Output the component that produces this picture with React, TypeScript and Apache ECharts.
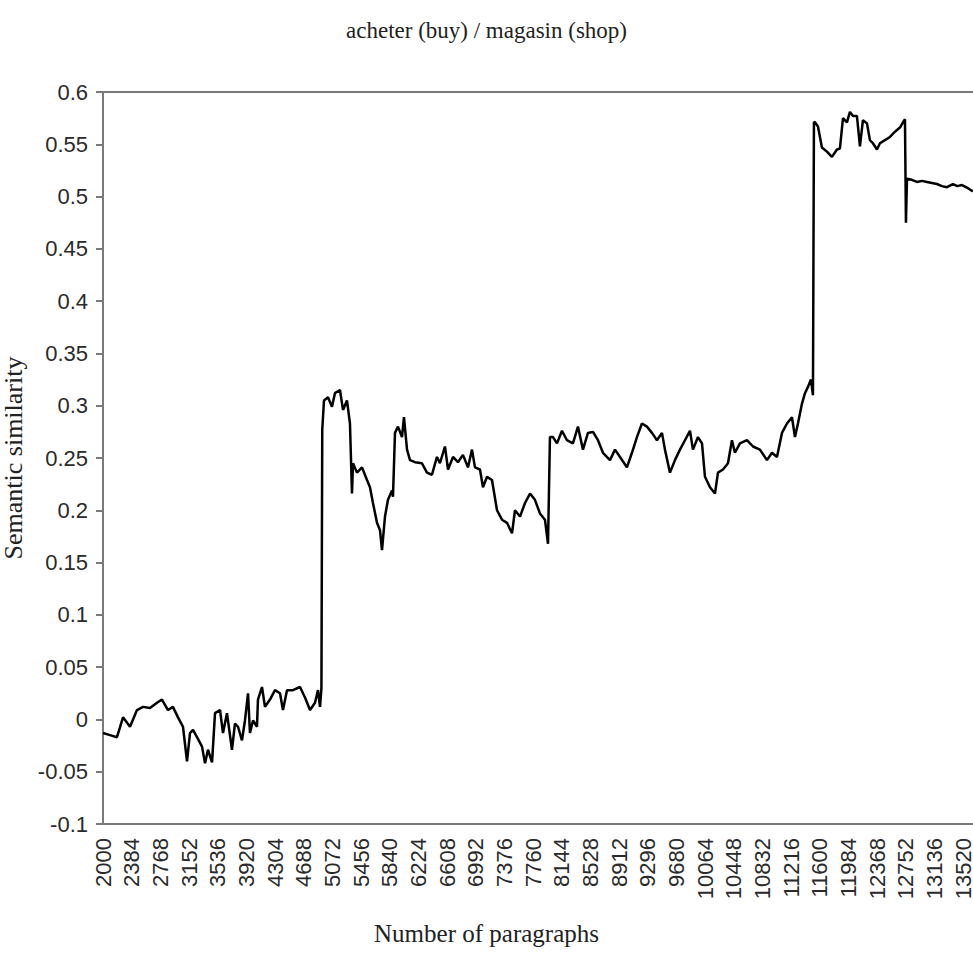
import React, { useEffect, useRef } from "react";
import * as echarts from "echarts";

const titleText = "acheter (buy) / magasin (shop)";
const xName = "Number of paragraphs";
const yName = "Semantic similarity";

// Number of paragraphs (x) and semantic similarity (y)
const paragraphs: number[] = [
  2000, 2094, 2187, 2268, 2362, 2455, 2536, 2629, 2723, 2790, 2870, 2937, 3004, 3071, 3125, 3165, 3205, 3259, 3326, 3366,
  3406, 3460, 3500, 3567, 3607, 3660, 3727, 3767, 3808, 3861, 3901, 3942, 3968, 4009, 4062, 4075, 4129, 4169, 4236, 4303,
  4370, 4410, 4464, 4544, 4638, 4705, 4772, 4839, 4879, 4906, 4925,
  4936, 4959, 5013, 5066, 5106, 5173, 5214, 5267, 5307, 5334, 5348, 5401, 5468, 5535, 5575, 5615, 5669, 5709, 5736, 5776,
  5816, 5870, 5883, 5910, 5950, 6004, 6030, 6071, 6111, 6178, 6271, 6338, 6405, 6472, 6512, 6579, 6620, 6687, 6753, 6820,
  6887, 6941, 6981, 7048, 7088, 7142, 7209, 7276, 7343, 7410, 7477, 7517, 7584, 7651, 7718, 7784, 7851, 7918, 7959,
  7985, 8026, 8079, 8146, 8213, 8293, 8360, 8427, 8494, 8561, 8628, 8695, 8789, 8856, 8923, 9016, 9083, 9150, 9217, 9284,
  9351, 9418, 9485, 9525, 9592, 9659, 9726, 9793, 9860, 9900, 9967, 10021, 10061, 10128, 10195, 10235, 10302, 10369, 10422, 10462,
  10529, 10623, 10704, 10797, 10891, 10958, 11025, 11092, 11159, 11226, 11266, 11306, 11360, 11400, 11440, 11480, 11507,
  11520, 11534, 11574, 11627, 11694, 11761, 11828, 11868, 11909, 11962, 12002, 12043, 12096, 12136, 12176, 12230, 12270, 12310, 12364,
  12404, 12471, 12538, 12605, 12672, 12712, 12739, 12752, 12766, 12830, 12899, 12966, 13033, 13100, 13167, 13234, 13301, 13382, 13440,
  13502, 13582, 13649,
];
const similarity: number[] = [
  -0.013, -0.015, -0.017, 0.002, -0.007, 0.009, 0.012, 0.011, 0.016, 0.019, 0.009, 0.012, 0.002, -0.007, -0.040, -0.013, -0.010, -0.017, -0.026, -0.042,
  -0.029, -0.041, 0.006, 0.009, -0.013, 0.006, -0.029, -0.004, -0.007, -0.020, -0.001, 0.025, -0.013, -0.001, -0.007, 0.019, 0.031, 0.012, 0.019, 0.028,
  0.025, 0.009, 0.028, 0.028, 0.031, 0.021, 0.009, 0.016, 0.028, 0.012, 0.030,
  0.277, 0.305, 0.308, 0.299, 0.312, 0.315, 0.296, 0.305, 0.283, 0.216, 0.245, 0.236, 0.241, 0.229, 0.222, 0.207, 0.188, 0.181, 0.162, 0.194,
  0.210, 0.219, 0.213, 0.274, 0.280, 0.270, 0.289, 0.258, 0.248, 0.246, 0.245, 0.236, 0.234, 0.251, 0.245, 0.261, 0.239, 0.251, 0.246, 0.253,
  0.241, 0.258, 0.241, 0.239, 0.222, 0.232, 0.229, 0.200, 0.191, 0.188, 0.178, 0.200, 0.194, 0.207, 0.216, 0.210, 0.197, 0.191, 0.168,
  0.270, 0.270, 0.264, 0.276, 0.267, 0.264, 0.280, 0.258, 0.274, 0.275, 0.267, 0.255, 0.248, 0.258, 0.251, 0.241, 0.255, 0.270, 0.283, 0.280,
  0.274, 0.267, 0.274, 0.258, 0.236, 0.248, 0.258, 0.267, 0.276, 0.258, 0.270, 0.264, 0.232, 0.222, 0.216, 0.236, 0.239, 0.245, 0.267, 0.255,
  0.264, 0.267, 0.261, 0.258, 0.248, 0.255, 0.251, 0.274, 0.283, 0.289, 0.270, 0.283, 0.302, 0.312, 0.318, 0.325, 0.310,
  0.571, 0.571, 0.567, 0.547, 0.543, 0.538, 0.545, 0.546, 0.575, 0.571, 0.581, 0.577, 0.577, 0.548, 0.573, 0.570, 0.554, 0.551, 0.545,
  0.551, 0.554, 0.557, 0.562, 0.566, 0.571, 0.574, 0.475, 0.517, 0.516, 0.514, 0.515, 0.514, 0.513, 0.512, 0.510, 0.509, 0.512, 0.510,
  0.511, 0.508, 0.505,
];

const xMin = 2000;
const xMax = 13650;
const xStep = 384;
const yMin = -0.1;
const yMax = 0.6;
const yStep = 0.05;

export default function App() {
  const ref = useRef<HTMLDivElement>(null);
  useEffect(() => {
    if (!ref.current) return;
    const chart = echarts.init(ref.current, null, { renderer: "svg" });
    const data = paragraphs.map((p, i) => [p, similarity[i]]);
    const axisColor = "#7a7a7a";
    const labelStyle = { fontFamily: "Liberation Sans", fontSize: 22, color: "#2a2a2a" };
    chart.setOption({
      animation: false,
      backgroundColor: "#ffffff",
      title: [
        {
          text: titleText,
          left: "center",
          top: 14,
          textStyle: { fontFamily: "Liberation Serif", fontSize: 23, fontWeight: "normal", color: "#222" },
        },
        {
          text: xName,
          left: "center",
          top: 916,
          textStyle: { fontFamily: "Liberation Serif", fontSize: 25, fontWeight: "normal", color: "#222" },
        },
      ],
      grid: { left: 103, right: 0, top: 92, bottom: 145, containLabel: false, outerBoundsMode: "none" },
      xAxis: [
        {
          type: "value",
          min: xMin,
          max: xMax,
          interval: xStep,
          axisLine: { show: true, onZero: false, lineStyle: { color: axisColor, width: 2 } },
          axisTick: { show: false },
          splitLine: { show: false },
          axisLabel: {
            ...labelStyle,
            rotate: 90,
            margin: 14,
            showMaxLabel: false,
            formatter: (v: number) => ((v - xMin) % xStep === 0 ? String(v) : ""),
          },
        },
        {
          type: "value",
          position: "top",
          min: xMin,
          max: xMax,
          axisLine: { show: true, onZero: false, lineStyle: { color: axisColor, width: 2 } },
          axisTick: { show: false },
          axisLabel: { show: false },
          splitLine: { show: false },
        },
      ],
      yAxis: {
        type: "value",
        min: yMin,
        max: yMax,
        interval: yStep,
        name: yName,
        nameLocation: "middle",
        nameGap: 60,
        nameTextStyle: { fontFamily: "Liberation Serif", fontSize: 26, color: "#222" },
        axisLine: { show: true, lineStyle: { color: axisColor, width: 2 } },
        axisTick: { show: true, length: 7, lineStyle: { color: axisColor, width: 2 } },
        splitLine: { show: false },
        axisLabel: { ...labelStyle, margin: 15 },
      },
      series: [
        {
          type: "line",
          xAxisIndex: 0,
          data,
          showSymbol: false,
          symbol: "none",
          lineStyle: { color: "#000", width: 2.5 },
        },
      ],
    });
    return () => chart.dispose();
  }, []);
  return (
    <div
      ref={ref}
      style={{ position: "absolute", left: 0, top: 0, width: 973, height: 969, background: "#fff" }}
    />
  );
}
